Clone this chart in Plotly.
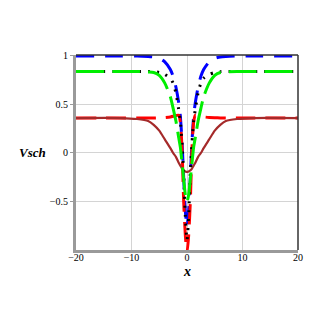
import plotly.graph_objects as go

# sample positions along x
x_pts = [-20, -12, -9, -7, -6, -5, -4, -3, -2.5, -2, -1.5, -1.2, -0.9, -0.6, -0.3, 0,
         0.3, 0.6, 0.9, 1.2, 1.5, 2, 2.5, 3, 4, 5, 6, 7, 9, 12, 20]

blue_y = [1, 1, 1, 0.995, 0.99, 0.975, 0.94, 0.86, 0.79, 0.68, 0.52, 0.38, 0.12, -0.25, -0.6, -0.76,
          -0.6, -0.25, 0.12, 0.38, 0.52, 0.68, 0.79, 0.86, 0.94, 0.975, 0.99, 0.995, 1, 1, 1]
green_y = [0.84, 0.84, 0.84, 0.835, 0.83, 0.8, 0.72, 0.58, 0.46, 0.33, 0.16, 0.06, -0.1, -0.27, -0.43, -0.5,
           -0.43, -0.27, -0.1, 0.06, 0.16, 0.33, 0.46, 0.58, 0.72, 0.8, 0.83, 0.835, 0.84, 0.84, 0.84]
red_y = [0.36, 0.36, 0.36, 0.36, 0.361, 0.363, 0.366, 0.372, 0.378, 0.385, 0.39, 0.32, 0.05, -0.5, -0.85, -1.03,
         -0.85, -0.5, 0.05, 0.32, 0.39, 0.385, 0.378, 0.372, 0.366, 0.363, 0.361, 0.36, 0.36, 0.36, 0.36]
brown_y = [0.36, 0.36, 0.35, 0.33, 0.29, 0.23, 0.14, 0.05, 0.0, -0.04, -0.1, -0.13, -0.16, -0.18, -0.19, -0.195,
           -0.19, -0.18, -0.16, -0.13, -0.1, -0.04, 0.0, 0.05, 0.14, 0.23, 0.29, 0.33, 0.35, 0.36, 0.36]
black_y = [0.84, 0.84, 0.84, 0.84, 0.838, 0.83, 0.81, 0.77, 0.72, 0.62, 0.45, 0.33, 0.1, -0.2, -0.65, -0.9,
           -0.65, -0.2, 0.1, 0.33, 0.45, 0.62, 0.72, 0.77, 0.81, 0.83, 0.838, 0.84, 0.84, 0.84, 0.84]

x_ticks = [-20, -10, 0, 10, 20]
y_ticks = [-0.5, 0, 0.5, 1]

# drawing order: blue, red, brown, black dots, green on top
curves = [
    (blue_y, "#0000ff", "18px,11px", 3),
    (red_y, "#ff0000", "20px,10px", 3),
    (brown_y, "#a52a2a", "solid", 2.2),
    (black_y, "#000000", "2px,7px", 3),
    (green_y, "#00ee00", "28px,8px", 3),
]

fig = go.Figure()
for ys, col, dash, w in curves:
    fig.add_trace(go.Scatter(
        x=x_pts, y=ys, mode="lines",
        line=dict(color=col, dash=dash, width=w, shape="spline", smoothing=0.6),
        showlegend=False,
    ))

tick_font = dict(family="Liberation Serif", size=10, color="black")
fig.update_xaxes(
    range=[-20, 20], tickvals=x_ticks, tickfont=tick_font,
    showgrid=True, gridcolor="#d4d4d4", gridwidth=1, zeroline=False,
    showline=True, linecolor="#9a9a9a", linewidth=3, ticks="",
    ticklabelstandoff=-4,
)
fig.update_yaxes(
    range=[-1, 1.01], tickvals=y_ticks, tickfont=tick_font,
    showgrid=True, gridcolor="#d4d4d4", gridwidth=1, zeroline=False,
    showline=True, linecolor="#9a9a9a", linewidth=3,
    ticks="outside", ticklen=3, tickcolor="#9a9a9a",
)
# dark top and right border
fig.add_shape(type="line", xref="paper", yref="paper", x0=0, x1=1, y0=1, y1=1,
              line=dict(color="#333333", width=1.5))
fig.add_shape(type="line", xref="paper", yref="paper", x0=1, x1=1, y0=0, y1=1,
              line=dict(color="#333333", width=1.5))

fig.add_annotation(text="<b><i>Vsch</i></b>", xref="paper", yref="paper",
                   x=-0.195, y=0.5, xanchor="center", yanchor="middle", showarrow=False,
                   font=dict(family="Liberation Serif", size=13, color="black"))
fig.add_annotation(text="<b><i>x</i></b>", xref="paper", yref="paper",
                   x=0.5, y=-0.112, xanchor="center", yanchor="middle", showarrow=False,
                   font=dict(family="Liberation Serif", size=14, color="black"))

# page body adds an 8px offset, so margins are shifted by that amount
fig.update_layout(
    width=327, height=327,
    margin=dict(l=68, r=37, t=47, b=85),
    plot_bgcolor="white", paper_bgcolor="white",
)
fig.write_html("out.html")
